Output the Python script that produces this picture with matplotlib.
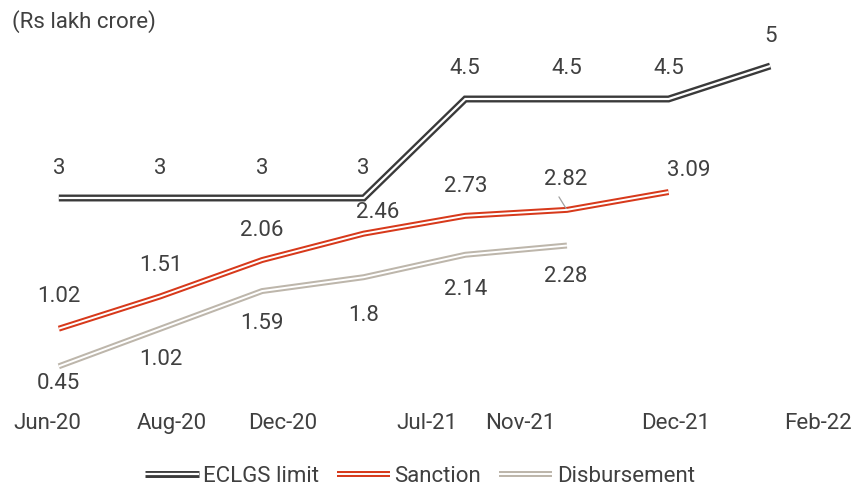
import numpy as np
import matplotlib.pyplot as plt
from matplotlib.lines import Line2D

plt.rcParams['font.family'] = ['Roboto', 'DejaVu Sans']

# ECLGS data (Rs lakh crore)
limit = [3, 3, 3, 3, 4.5, 4.5, 4.5, 5]
sanction = [1.02, 1.51, 2.06, 2.46, 2.73, 2.82, 3.09]
disbursement = [0.45, 1.02, 1.59, 1.8, 2.14, 2.28]
month_labels = ['Jun-20', 'Aug-20', 'Dec-20', 'Jul-21', 'Nov-21', 'Dec-21', 'Feb-22']
label_pos = [-0.11, 1.11, 2.2, 3.62, 4.54, 6.07, 7.47]

txt = '#404040'
c_limit = '#3a3a3a'
c_sanc = '#d7391b'
c_disb = '#bdb6ab'

fig = plt.figure(figsize=(8.61, 4.87), dpi=100)
ax = fig.add_axes([8 / 861, 1 - 396 / 487, 813 / 861, 363 / 487])


def double_line(y, color, lw, gap):
    x = np.arange(len(y))
    ax.plot(x, y, color=color, lw=lw, solid_joinstyle='miter',
            solid_capstyle='butt', zorder=3)
    ax.plot(x, y, color='white', lw=gap, solid_joinstyle='miter',
            solid_capstyle='butt', zorder=4)


double_line(limit, c_limit, 5.0, 1.6)
double_line(sanction, c_sanc, 4.3, 1.4)
double_line(disbursement, c_disb, 4.3, 1.4)

fs = 16


def label(i, v, dx, dy):
    ax.annotate(f'{v:g}', (i, v), xytext=(dx, dy), textcoords='offset pixels',
                ha='center', va='center', fontsize=fs, color=txt)


for i, v in enumerate(limit):
    label(i, v, 0, 30)

sanc_off = [(0, 32), (0, 31), (0, 30), (14, 21), (0, 29), (-1, 30), (20, 22)]
for i, v in enumerate(sanction):
    label(i, v, *sanc_off[i])

disb_off = [(0, -17), (0, -31), (0, -32), (0, -38), (0, -35), (-1, -31)]
for i, v in enumerate(disbursement):
    label(i, v, *disb_off[i])

# leader line for the Nov-21 sanction label
ax.annotate('', (5, sanction[5]), xytext=(-8, 13), textcoords='offset pixels',
            arrowprops=dict(arrowstyle='-', color='#a0a0a0', lw=0.9,
                            shrinkA=0, shrinkB=0))

ax.set_xlim(-0.5, 7.5)
ax.set_ylim(0, 5.5)
ax.set_xticks(label_pos)
ax.set_xticklabels(month_labels, fontsize=fs, color=txt)
ax.tick_params(axis='x', length=0, pad=12)
ax.set_yticks([])
for s in ax.spines.values():
    s.set_visible(False)

fig.text(12 / 861, 1 - 22 / 487, '(Rs lakh crore)', fontsize=fs, color=txt,
         va='center', ha='left')


def handle(color, lw, gap):
    return (Line2D([], [], color=color, lw=lw, solid_capstyle='butt'),
            Line2D([], [], color='white', lw=gap, solid_capstyle='butt'))


leg = fig.legend([handle(c_limit, 5.0, 1.6), handle(c_sanc, 4.3, 1.4), handle(c_disb, 4.3, 1.4)],
                 ['ECLGS limit', 'Sanction', 'Disbursement'],
                 loc='center', bbox_to_anchor=(420 / 861, 1 - 476 / 487), ncol=3,
                 frameon=False, fontsize=fs, handlelength=2.4, handletextpad=0.2,
                 columnspacing=0.8)
for t in leg.get_texts():
    t.set_color(txt)

fig.savefig('out.png', dpi=100)
